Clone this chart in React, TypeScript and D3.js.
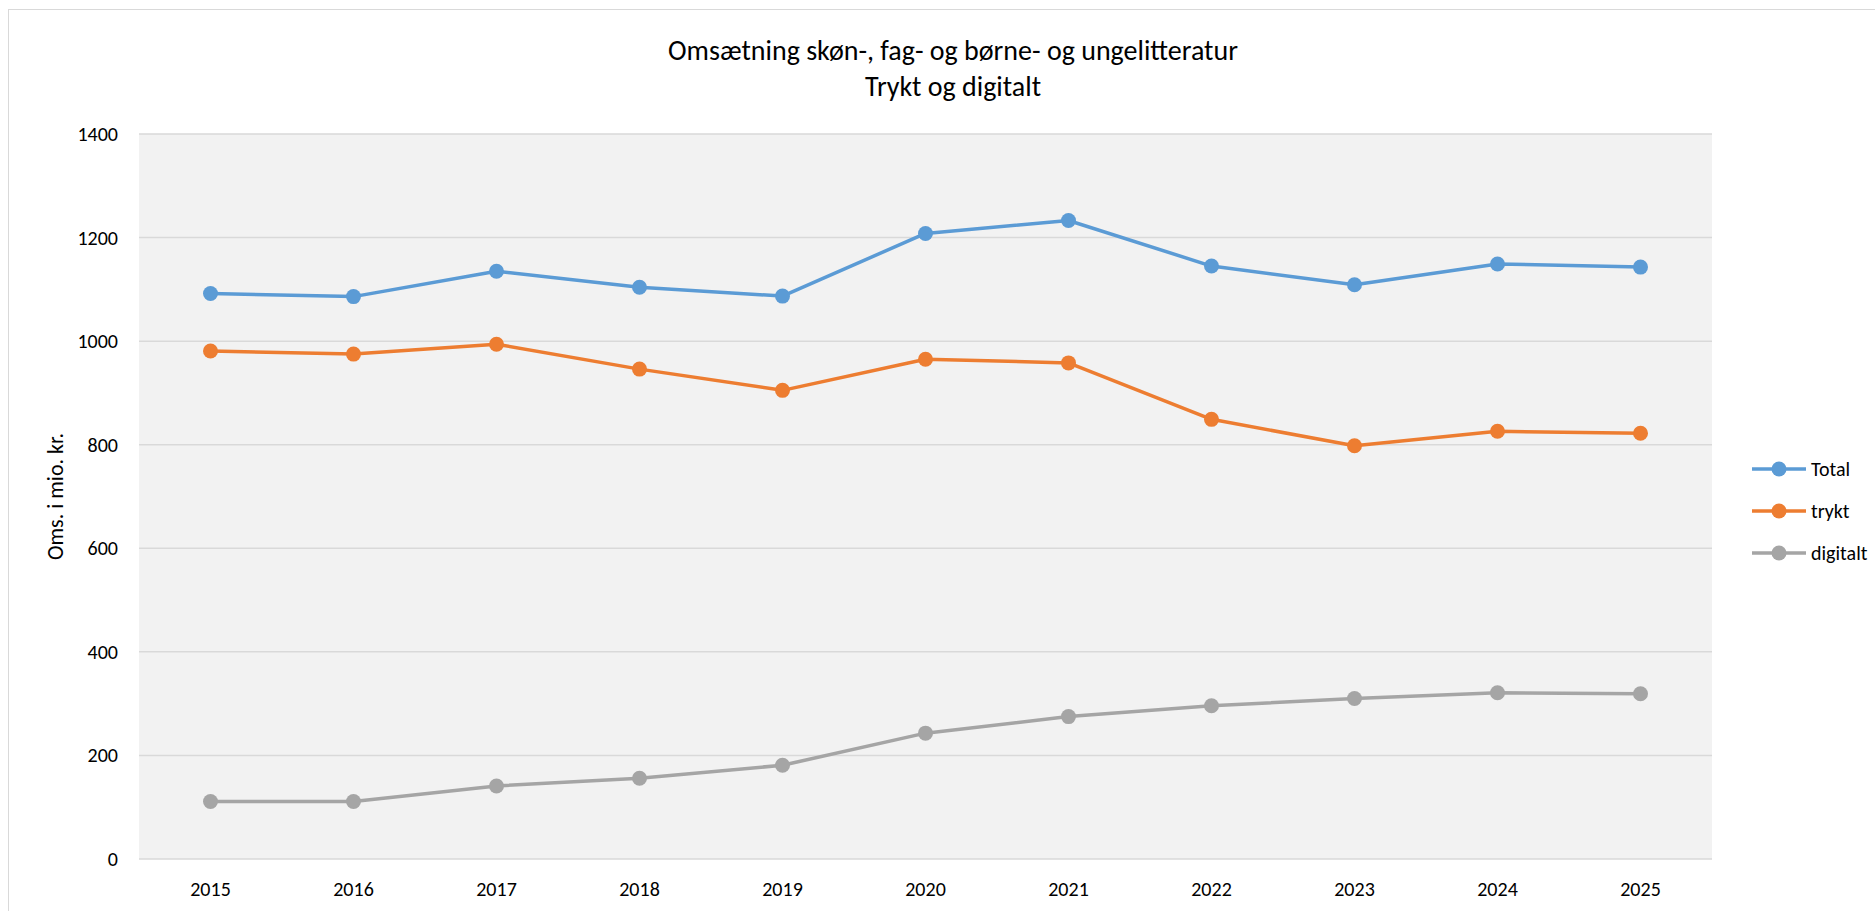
import React from "react";
import * as d3 from "d3";

const years = ["2015", "2016", "2017", "2018", "2019", "2020", "2021", "2022", "2023", "2024", "2025"];
const totalValues = [1092, 1086, 1135, 1104, 1087, 1208, 1233, 1145, 1109, 1149, 1143];
const tryktValues = [981, 975, 994, 946, 905, 965, 958, 849, 798, 826, 822];
const digitaltValues = [111, 111, 141, 156, 181, 243, 275, 296, 310, 321, 319];
const seriesNames = ["Total", "trykt", "digitalt"];
const seriesColors = ["#5b9bd5", "#ed7d31", "#a5a5a5"];
const yTicks = [0, 200, 400, 600, 800, 1000, 1200, 1400];
const titleLines = ["Omsætning skøn-, fag- og børne- og ungelitteratur", "Trykt og digitalt"];
const yAxisTitle = "Oms. i mio. kr.";

const FONT = "Carlito, Calibri, Lato, sans-serif";

export default function App() {
  const W = 1875;
  const H = 911;
  const left = 139;
  const right = 1712;
  const top = 134;
  const bottom = 859;

  const x = d3.scaleBand<string>().domain(years).range([left, right]).padding(0);
  const y = d3.scaleLinear().domain([0, 1400]).range([bottom, top]);
  const cx = (yr: string) => (x(yr) as number) + x.bandwidth() / 2;

  const allSeries = [totalValues, tryktValues, digitaltValues];
  const line = d3
    .line<number>()
    .x((_, i) => cx(years[i]))
    .y((v) => y(v));

  const legendX1 = 1752;
  const legendX2 = 1806;
  const legendY = [469, 511, 553];

  return (
    <svg
      width={W}
      height={H}
      style={{ position: "absolute", left: 0, top: 0, display: "block", background: "#fff" }}
      fontFamily={FONT}
    >
      <rect x={8.5} y={9.5} width={W} height={H} fill="#fff" stroke="#d9d9d9" strokeWidth={1} />
      <rect x={left} y={top} width={right - left} height={bottom - top} fill="#f2f2f2" />
      {yTicks.map((t) => (
        <line key={t} x1={left} x2={right} y1={y(t)} y2={y(t)} stroke="#d9d9d9" strokeWidth={1.5} />
      ))}
      {yTicks.map((t) => (
        <text key={"l" + t} x={118} y={y(t)} dy="0.35em" textAnchor="end" fontSize={20} fill="#000">
          {t}
        </text>
      ))}
      {years.map((yr) => (
        <text key={yr} x={cx(yr)} y={889} dy="0.35em" textAnchor="middle" fontSize={20} fill="#000">
          {yr}
        </text>
      ))}
      <g transform={`translate(55,${(top + bottom) / 2}) rotate(-90)`}>
        <text x={0} y={0} textAnchor="middle" dy="0.35em" fontSize={22} fill="#000">
          {yAxisTitle}
        </text>
      </g>
      {titleLines.map((tl, i) => (
        <text key={i} x={953} y={50 + i * 36} dy="0.35em" textAnchor="middle" fontSize={28} fill="#000">
          {tl}
        </text>
      ))}
      {allSeries.map((vals, si) => (
        <g key={si}>
          <path d={line(vals) as string} fill="none" stroke={seriesColors[si]} strokeWidth={3.5} strokeLinejoin="round" />
          {vals.map((v, i) => (
            <circle key={i} cx={cx(years[i])} cy={y(v)} r={7.5} fill={seriesColors[si]} />
          ))}
        </g>
      ))}
      {seriesNames.map((n, i) => (
        <g key={n}>
          <line x1={legendX1} x2={legendX2} y1={legendY[i]} y2={legendY[i]} stroke={seriesColors[i]} strokeWidth={3.5} />
          <circle cx={(legendX1 + legendX2) / 2} cy={legendY[i]} r={7.5} fill={seriesColors[i]} />
          <text x={legendX2 + 5} y={legendY[i]} dy="0.35em" fontSize={20} fill="#000">
            {n}
          </text>
        </g>
      ))}
    </svg>
  );
}
